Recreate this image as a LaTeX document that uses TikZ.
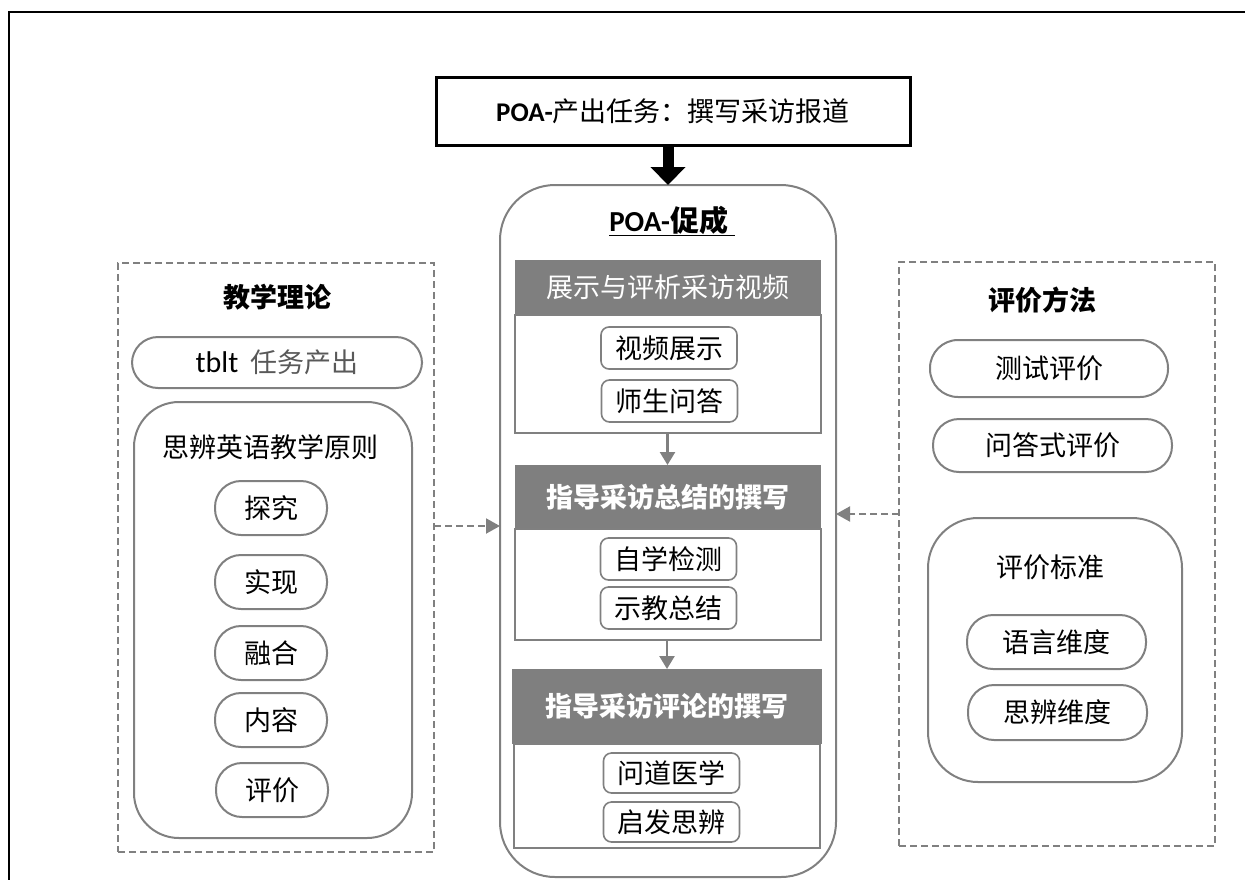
\documentclass[tikz,border=0pt]{standalone}
\usepackage{fontspec}
\setmainfont{Noto Sans CJK SC}
\newfontfamily\lat{Carlito}
\usetikzlibrary{arrows.meta, calc}

\definecolor{linegray}{RGB}{128,128,128}
\definecolor{headgray}{RGB}{127,127,127}
\definecolor{softgray}{RGB}{89,89,89}

\begin{document}
\begin{tikzpicture}[
        x=1pt, y=-1pt,
        font=\fontsize{27}{32}\selectfont,
        every node/.style={inner sep=0pt, outer sep=0pt},
        taskbox/.style={draw=black, line width=3pt, fill=white, minimum width=474, minimum height=68},
        bigbox/.style={draw=linegray, line width=2pt, rounded corners=55pt, minimum width=336, minimum height=692},
        headbar/.style={fill=headgray, text=white, minimum width=306},
        bodybox/.style={draw=linegray, line width=2pt, fill=white, minimum width=306},
        item/.style={draw=linegray, line width=1.6pt, rounded corners=8pt, minimum width=136, minimum height=42},
        dashbox/.style={draw=linegray, line width=2pt, dash pattern=on 7pt off 4pt, minimum width=316},
        roundbox/.style={draw=linegray, line width=2pt},
        pill/.style={draw=linegray, line width=2pt, rounded corners=26pt},
        flow/.style={draw=linegray, line width=2.5pt, -{Triangle[width=15pt, length=13pt]}},
        side/.style={draw=linegray, line width=2pt, dash pattern=on 7pt off 4pt, -{Triangle[width=15pt, length=14pt]}}
    ]
    \useasboundingbox (0,0) rectangle (1245,879);

    % outer frame
    \draw[line width=2pt] (9,900) -- (9,12) -- (1260,12);

    % output task
    \node[taskbox] (task) at (673,111.5) {{\lat\bfseries POA-}产出任务：撰写采访报道};

    % enabling column
    \node[bigbox] (big) at (668,531) {};
    \draw[line width=11pt, -{Triangle[width=34pt, length=18pt]}] (big.north |- task.south) -- (big.north);
    \node (poa) at (672,221) {\fontsize{29}{34}\selectfont\bfseries\underline{{\lat POA-}促成~}};

    \node[headbar, minimum height=55] (h1) at (668,287.5) {展示与评析采访视频};
    \node[bodybox, minimum height=118] (b1) at (668,374) {};
    \node[item] (i11) at (669,348) {视频展示};
    \node[item] (i12) at (669.5,401) {师生问答};

    \node[headbar, minimum height=64] (h2) at (667.5,497) {\bfseries 指导采访总结的撰写};
    \node[bodybox, minimum height=111] (b2) at (667.5,584.5) {};
    \node[item] (i21) at (668.5,559) {自学检测};
    \node[item] (i22) at (668.5,608) {示教总结};

    \node[headbar, minimum height=75, minimum width=310] (h3) at (667,706.5) {\bfseries 指导采访评论的撰写};
    \node[bodybox, minimum height=104] (b3) at (667,796) {};
    \node[item, minimum height=40] (i31) at (671.5,773) {问道医学};
    \node[item, minimum height=40] (i32) at (671.5,822) {启发思辨};

    \draw[flow] (b1.south -| h2.north) -- (h2.north);
    \draw[flow] (b2.south -| h3.north) -- (h3.north);

    % teaching theory
    \node[dashbox, minimum height=589] (theory) at (276,557.5) {};
    \node (ttitle) at (277,297) {\bfseries 教学理论};
    \node[pill, minimum width=290, minimum height=51] (tblt) at (277,362.5) {{\lat\fontsize{30}{34}\selectfont tblt}\ \ \textcolor{softgray}{任务产出}};
    \node[roundbox, rounded corners=45pt, minimum width=278, minimum height=436] (rules) at (273,620) {};
    \node (rtitle) at (270,447) {思辨英语教学原则};
    \node[pill, minimum width=112, minimum height=54] (p1) at (271,508) {探究};
    \node[pill, minimum width=112, minimum height=54] (p2) at (271,582) {实现};
    \node[pill, minimum width=112, minimum height=54] (p3) at (271,653) {融合};
    \node[pill, minimum width=112, minimum height=54] (p4) at (271,720) {内容};
    \node[pill, minimum width=112, minimum height=54] (p5) at (272,790) {评价};

    % evaluation
    \node[dashbox, minimum height=584] (eval) at (1057,554) {};
    \node (etitle) at (1042,300) {\bfseries 评价方法};
    \node[pill, rounded corners=28pt, minimum width=238, minimum height=57] (test) at (1049,368.5) {测试评价};
    \node[pill, minimum width=239, minimum height=53] (qa) at (1052.5,445.5) {问答式评价};
    \node[roundbox, rounded corners=50pt, minimum width=254, minimum height=264] (std) at (1055,650) {};
    \node (stitle) at (1050,567) {评价标准};
    \node[pill, minimum width=179, minimum height=54] (lang) at (1056.5,642) {语言维度};
    \node[pill, minimum width=179, minimum height=55] (think) at (1057.5,712.5) {思辨维度};

    % side links
    \coordinate (la) at (theory.east |- 0,526);
    \coordinate (ra) at (eval.west |- 0,514);
    \draw[side] (la) -- (big.west |- la);
    \draw[side] (ra) -- (big.east |- ra);

\end{tikzpicture}
\end{document}
